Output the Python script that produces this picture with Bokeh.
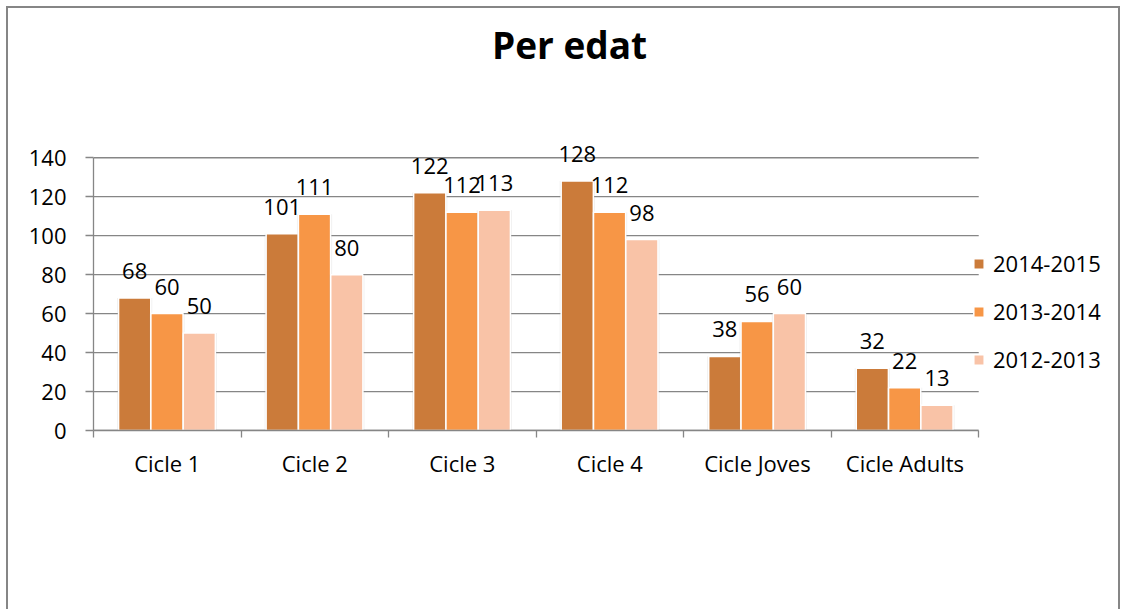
from bokeh.plotting import figure
from bokeh.models import (ColumnDataSource, Range1d, FixedTicker, LabelSet, Label,
                          Legend, LegendItem)
from bokeh.core.properties import value
from bokeh.embed import file_html
from bokeh.resources import INLINE

# ---- data ----
categories = ["Cicle 1", "Cicle 2", "Cicle 3", "Cicle 4", "Cicle Joves", "Cicle Adults"]
series_names = ["2014-2015", "2013-2014", "2012-2013"]
s2014_2015 = [68, 101, 122, 128, 38, 32]
s2013_2014 = [60, 111, 112, 112, 56, 22]
s2012_2013 = [50, 80, 113, 98, 60, 13]
y_ticks = [0, 20, 40, 60, 80, 100, 120, 140]
title_text = "Per edat"

colors = ["#CB7B3A", "#F79646", "#F9C3A7"]
series = [s2014_2015, s2013_2014, s2012_2013]
offsets = [-0.221, -0.002, 0.217]
bar_w = 0.218

FONT = "Open Sans"
GRAY = "#868686"
FS = "22px"

n = len(categories)
# frame extends right (legend room) and up (title room); axis/grid bounded to data
p = figure(width=1114, height=603, x_range=Range1d(0, 6.9),
           y_range=Range1d(0, 213), output_backend="svg", toolbar_location=None,
           min_border_left=85, min_border_right=11, min_border_top=7,
           min_border_bottom=181)
p.styles = {"margin-top": "6px", "margin-left": "6px",
            "border-top": "2px solid #868686", "border-left": "2px solid #868686",
            "border-right": "2px solid #868686"}
p.outline_line_color = None
p.background_fill_color = "white"
p.border_fill_color = "white"
p.xgrid.visible = False
p.ygrid.visible = False

# gridlines limited to the category span
p.segment(x0=[0] * len(y_ticks), x1=[n] * len(y_ticks), y0=y_ticks, y1=y_ticks,
          line_color=GRAY, line_width=1.3)

# y axis
ya = p.yaxis[0]
ya.ticker = FixedTicker(ticks=y_ticks)
ya.bounds = (y_ticks[0], y_ticks[-1])
ya.axis_line_color = GRAY
ya.axis_line_width = 1.3
ya.major_tick_line_color = GRAY
ya.major_tick_line_width = 1.3
ya.major_tick_out = 8
ya.major_tick_in = 0
ya.minor_tick_line_color = None
ya.major_label_standoff = 19
ya.major_label_text_font = FONT
ya.major_label_text_font_size = FS
ya.major_label_text_color = "black"

# x axis: labels at centers, boundary ticks as minor ticks
xa = p.xaxis[0]
centers = [i + 0.5 for i in range(n)]
xa.ticker = FixedTicker(ticks=centers, minor_ticks=list(range(n + 1)))
xa.major_label_overrides = {c: name for c, name in zip(centers, categories)}
xa.bounds = (0, n)
xa.axis_line_color = GRAY
xa.axis_line_width = 1.3
xa.major_tick_out = 0
xa.major_tick_in = 0
xa.major_tick_line_color = None
xa.minor_tick_out = 7
xa.minor_tick_in = 0
xa.minor_tick_line_color = GRAY
xa.minor_tick_line_width = 1.3
xa.major_label_standoff = 10
xa.major_label_text_font = FONT
xa.major_label_text_font_size = FS
xa.major_label_text_color = "black"

legend_items = []
for name, vals, col, off in zip(series_names, series, colors, offsets):
    src = ColumnDataSource(dict(x=[c + off for c in centers], top=vals,
                                label=[str(v) for v in vals]))
    # soft shadow behind each bar
    p.vbar(x="x", top="top", bottom=0, width=bar_w + 0.02, source=src,
           fill_color="#999999", fill_alpha=0.18, line_color=None)
    r = p.vbar(x="x", top="top", bottom=0, width=bar_w, source=src,
               fill_color=col, line_color="white", line_width=1.5)
    legend_items.append(LegendItem(label=name, renderers=[r]))
    lbl = LabelSet(x="x", y="top", text="label", source=src, text_align="center",
                   text_baseline="alphabetic", y_offset=19, text_font=value(FONT),
                   text_font_size=value(FS), text_color="black")
    p.add_layout(lbl)

legend = Legend(items=legend_items, location=(879, 56), padding=0, margin=0,
                spacing=18, glyph_width=13, glyph_height=13, label_height=30,
                label_standoff=8, label_text_font=FONT, label_text_font_size=FS,
                label_text_color="black", border_line_alpha=0,
                background_fill_alpha=0)
p.add_layout(legend)

title = Label(x=476, y=386, x_units="screen", y_units="screen", text=title_text,
              text_align="center", text_baseline="alphabetic", text_font=FONT,
              text_font_size="37px", text_font_style="bold", text_color="black")
p.add_layout(title)

open("out.html", "w").write(file_html(p, INLINE))
